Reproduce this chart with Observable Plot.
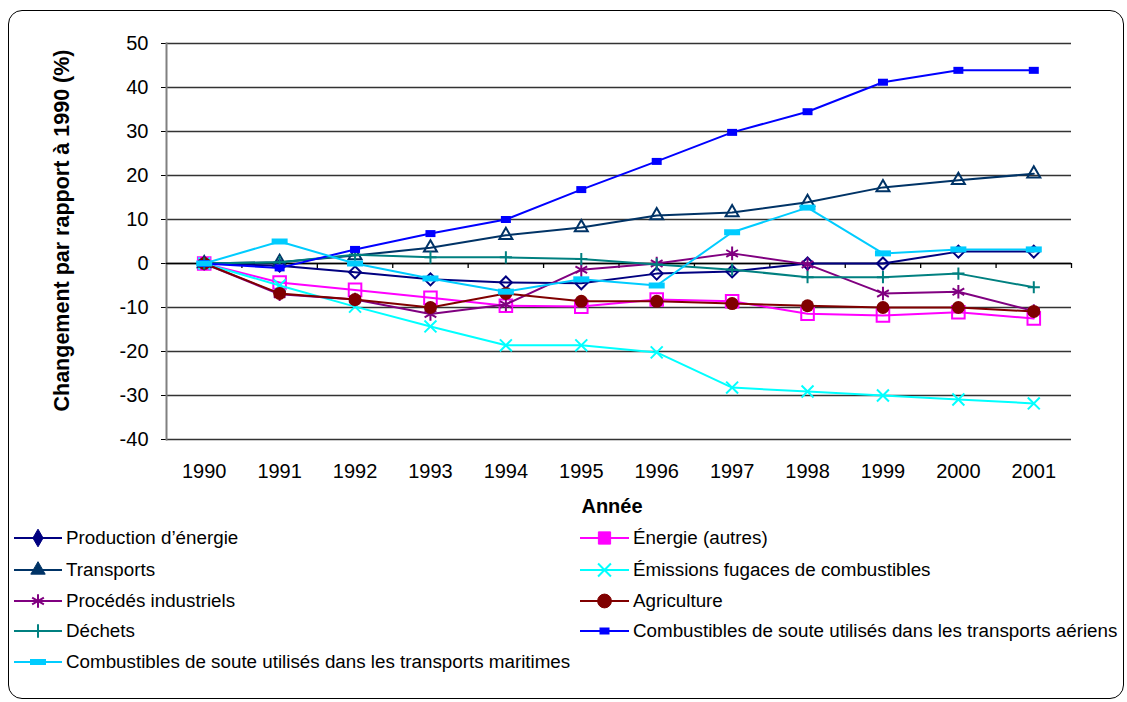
<!DOCTYPE html>
<html>
<head>
<meta charset="utf-8">
<script src="https://cdn.jsdelivr.net/npm/d3@7"></script>
<script src="https://cdn.jsdelivr.net/npm/@observablehq/plot@0.6"></script>
<style>
  html, body { margin: 0; padding: 0; background: #fff; }
  body { width: 1127px; height: 702px; position: relative; overflow: hidden; font-family: "Liberation Sans", Arial, sans-serif; }
  #frame { position: absolute; left: 8px; top: 10px; width: 1116px; height: 689px; border: 1px solid #000; border-radius: 14px; box-sizing: border-box; }
  #chart { position: absolute; left: 0; top: 0; }
  .leg { position: absolute; height: 20px; display: flex; align-items: center; font-size: 18.8px; color: #000; white-space: nowrap; }
  .leg svg { display: block; }
  .leg span { margin-left: 4px; }
</style>
</head>
<body>
<div id="frame"></div>
<div id="chart"></div>
<div id="legend"></div>
<script>
const years = [1990, 1991, 1992, 1993, 1994, 1995, 1996, 1997, 1998, 1999, 2000, 2001];
const yTicks = [-40, -30, -20, -10, 0, 10, 20, 30, 40, 50];

const prodEnergie   = [0, -0.5, -2.0, -3.6, -4.3, -4.5, -2.3, -1.8, 0, 0, 2.7, 2.7];
const energieAutres = [0, -4.3, -6.0, -7.8, -9.6, -9.8, -8.2, -8.6, -11.4, -11.8, -11.1, -12.5];
const transports    = [0, 0.3, 1.8, 3.6, 6.4, 8.2, 10.9, 11.6, 13.9, 17.3, 18.9, 20.4];
const fugaces       = [0, -5.0, -9.8, -14.3, -18.6, -18.6, -20.2, -28.2, -29.1, -30.0, -30.9, -31.8];
const procedes      = [0, -7.0, -8.2, -11.5, -9.3, -1.4, 0, 2.3, -0.2, -6.8, -6.4, -10.8];
const agriculture   = [0, -6.8, -8.2, -10.0, -6.8, -8.6, -8.6, -9.1, -9.6, -10.0, -10.0, -10.9];
const dechets       = [0, 0.3, 2.0, 1.4, 1.4, 1.0, -0.2, -1.4, -3.1, -3.1, -2.3, -5.4];
const aeriens       = [0, -1.0, 3.2, 6.8, 10.0, 16.8, 23.2, 29.8, 34.5, 41.2, 43.9, 43.9];
const maritimes     = [0, 5.0, 0, -3.4, -6.4, -3.6, -5.0, 7.1, 12.7, 2.3, 3.2, 3.2];

const seriesNames = [
  "Production d’énergie",
  "Énergie (autres)",
  "Transports",
  "Émissions fugaces de combustibles",
  "Procédés industriels",
  "Agriculture",
  "Déchets",
  "Combustibles de soute utilisés dans les transports aériens",
  "Combustibles de soute utilisés dans les transports maritimes"
];
const seriesValues = [prodEnergie, energieAutres, transports, fugaces, procedes, agriculture, dechets, aeriens, maritimes];
const seriesColors = ["#000080", "#FF00FF", "#003366", "#00FFFF", "#800080", "#800000", "#008080", "#0000FF", "#00CCFF"];

const rectSym = (w, h) => ({ draw(ctx) { ctx.rect(-w / 2, -h / 2, w, h); } });
const markers = [
  { symbol: "diamond2", r: 5.4, filled: false },
  { symbol: "square2", r: 8, filled: false },
  { symbol: "triangle2", r: 6.2, filled: false },
  { symbol: "times", r: 5.5, filled: false },
  { symbol: "asterisk", r: 6.4, filled: false },
  { symbol: "circle", r: 6.5, filled: true },
  { symbol: "plus", r: 4, filled: false },
  { symbol: rectSym(10, 7), r: 5, filled: true },
  { symbol: rectSym(16, 6), r: 5, filled: true }
];

const data = seriesNames.map((name, s) => years.map((year, i) => ({ name, year, value: seriesValues[s][i] })));
const boundaries = years.map(y => y + 0.5);

const marks = [
  Plot.ruleY(yTicks, { stroke: "#333", strokeWidth: 1.3 }),
  Plot.frame({ anchor: "left", stroke: "#808080", strokeWidth: 2 }),
  Plot.ruleY([0], { stroke: "#000", strokeWidth: 1.3 }),
  Plot.ruleX(boundaries, { y1: 0, y2: 0, insetBottom: -5, stroke: "#000", strokeWidth: 1.3 })
];
data.forEach((d, s) => {
  const color = seriesColors[s];
  const m = markers[s];
  marks.push(Plot.line(d, { x: "year", y: "value", stroke: color, strokeWidth: 2 }));
  marks.push(Plot.dot(d, {
    x: "year", y: "value", symbol: () => m.symbol, r: m.r,
    stroke: m.filled ? "none" : color, fill: m.filled ? color : "none", strokeWidth: 2
  }));
});
marks.push(Plot.text(["Année"], { frameAnchor: "bottom", lineAnchor: "top", dy: 59, dx: -7, fontWeight: "bold", fontSize: 20 }));
marks.push(Plot.text(["Changement par rapport à 1990 (%)"], { frameAnchor: "left", rotate: -90, dx: -104, dy: -11, fontWeight: "bold", fontSize: 21.5, textAnchor: "middle" }));

const chart = Plot.plot({
  width: 1127,
  height: 520,
  marginLeft: 166,
  marginRight: 56,
  marginTop: 43,
  marginBottom: 81,
  style: { fontFamily: "'Liberation Sans', Arial, sans-serif", fontSize: "20px", background: "transparent", color: "#000" },
  x: { type: "linear", domain: [1989.5, 2001.5], ticks: years, tickFormat: d => String(d), tickSize: 0, tickPadding: 24, label: null },
  y: { domain: [-40, 50], ticks: yTicks, tickFormat: d => String(d), tickSize: 5, tickPadding: 13, label: null },
  marks
});
document.getElementById("chart").appendChild(chart);

const legendSymbols = [
  { type: d3.symbolDiamond, size: 90, filled: true },
  { type: d3.symbolSquare, size: 150, filled: true },
  { type: d3.symbolTriangle, size: 90, filled: true },
  { type: d3.symbolTimes, size: 110, filled: false },
  { type: d3.symbolAsterisk, size: 130, filled: false },
  { type: d3.symbolCircle, size: 150, filled: true },
  { type: d3.symbolPlus, size: 60, filled: false },
  { rect: [10, 7] },
  { rect: [16, 6] }
];
const rowCenters = [538, 570, 601, 631, 662];
const legend = document.getElementById("legend");
seriesNames.forEach((name, s) => {
  const col = s % 2, row = Math.floor(s / 2);
  const left = col === 0 ? 14 : 580;
  const lw = col === 0 ? 48 : 49;
  const cy = rowCenters[row];
  const color = seriesColors[s];
  const ls = legendSymbols[s];
  let markerSvg;
  if (ls.rect) {
    markerSvg = `<rect x="${lw / 2 - ls.rect[0] / 2}" y="${10 - ls.rect[1] / 2}" width="${ls.rect[0]}" height="${ls.rect[1]}" fill="${color}"/>`;
  } else {
    const p = d3.symbol(ls.type, ls.size)();
    markerSvg = `<path transform="translate(${lw / 2},10)" d="${p}" fill="${ls.filled ? color : "none"}" stroke="${color}" stroke-width="${ls.filled ? 1 : 2}"/>`;
  }
  const div = document.createElement("div");
  div.className = "leg";
  div.style.left = left + "px";
  div.style.top = (cy - 10) + "px";
  div.innerHTML = `<svg width="${lw}" height="20"><line x1="0" x2="${lw}" y1="10" y2="10" stroke="${color}" stroke-width="2"/>${markerSvg}</svg><span>${name}</span>`;
  legend.appendChild(div);
});
</script>
</body>
</html>
